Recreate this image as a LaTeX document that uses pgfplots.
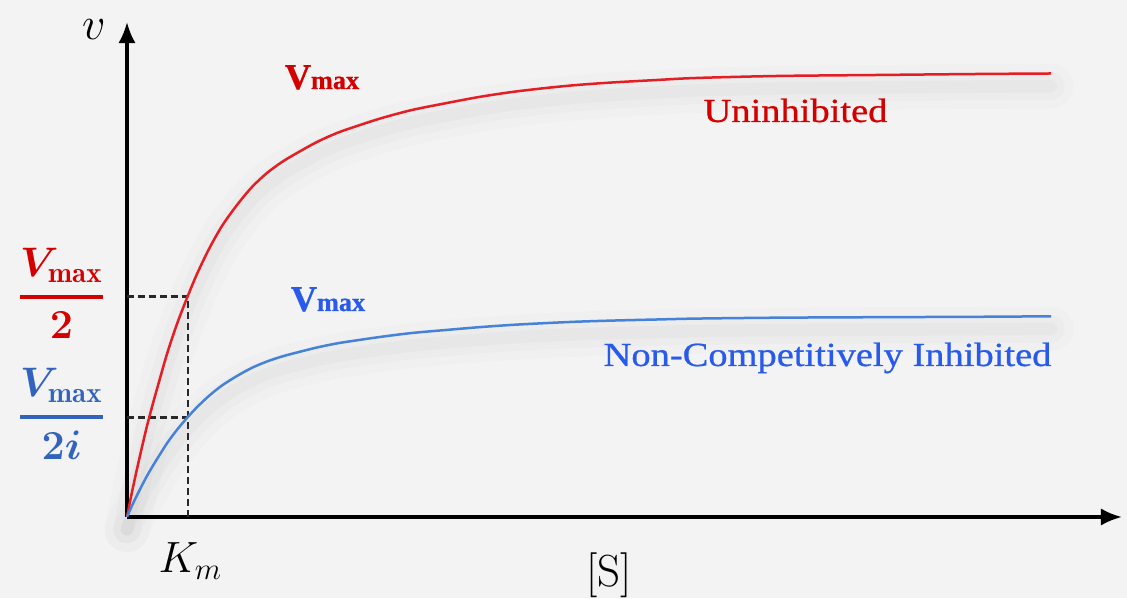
\RequirePackage{fix-cm}
\documentclass[border=0pt]{standalone}
\usepackage{amsmath}
\usepackage{graphicx}
\usepackage{fontspec}
\usepackage{pgfplots}
\pgfplotsset{compat=1.18}
\usepackage{pgfplotstable}
\usetikzlibrary{arrows.meta,backgrounds}
\newfontfamily\tnr[FakeBold=0.7]{Liberation Serif}

\definecolor{bgcol}{RGB}{243,243,243}
\definecolor{curvered}{RGB}{228,30,36}
\definecolor{curveblue}{RGB}{70,130,215}
\definecolor{txtred}{RGB}{212,0,0}
\definecolor{txtblue}{RGB}{40,90,235}
\definecolor{fracblue}{RGB}{50,100,190}
\definecolor{dashgray}{RGB}{40,40,40}

% [S] offset from origin vs. rate, both read off in picture pixels
\pgfplotstableread{
s v
0 0
5 25
10 48
15 70
20 91
25 110
30 128
40 163
50 193
60 219
70 243
82 268
95 291
110 312
125 330
140 344
155 355
170 364
190 375
210 384
230 391
255 399
285 407
320 414
352 420
385 425
419 429
450 432
485 434.5
530 437
569 439
650 441
750 442
850 443
924 443.5
}\uninhibited

\pgfplotstableread{
s v
0 0
5 11.3
10 21.7
15 31.6
20 41.1
25 49.7
30 57.9
40 73.7
50 87.2
60 99.0
70 109.8
82 121.1
95 131.5
110 141.0
125 149.2
140 155.5
155 160.5
170 164.5
190 169.5
210 173.6
230 176.7
255 180.3
285 184.0
320 187.1
352 189.8
385 192.1
419 193.9
450 195.3
485 196.4
530 197.5
569 198.4
650 199.3
750 199.8
850 200.2
924 200.7
}\noncomp

\newcommand{\vmaxlbl}{{\tnr\bfseries\fontsize{14.5}{16}\selectfont V\fontsize{10.5}{12}\selectfont max}}
\newcommand{\halffrac}[1]{\ensuremath{\displaystyle\genfrac{}{}{1.5pt}{}{V_{\max}}{#1}}}
\pgfplotsset{shadow/.style={black, opacity=#1, line cap=round, line join=round, smooth, yshift=-5pt}}

\begin{document}
\begin{tikzpicture}
\begin{axis}[
    x=0.4pt, y=0.4pt,
    at={(0,0)}, anchor=origin,
    xmin=0, xmax=995, ymin=0, ymax=495,
    enlargelimits=false,
    axis lines=left,
    axis line style={line width=1.4pt, -{Latex[length=8.5pt,width=7pt]}},
    xtick=\empty, ytick=\empty,
    clip=false,
]
% soft shadows under the curves
\addplot[shadow=0.012, line width=18pt] table {\uninhibited};
\addplot[shadow=0.016, line width=11pt] table {\uninhibited};
\addplot[shadow=0.02, line width=5pt] table {\uninhibited};
\addplot[shadow=0.012, line width=18pt] table {\noncomp};
\addplot[shadow=0.016, line width=11pt] table {\noncomp};
\addplot[shadow=0.02, line width=5pt] table {\noncomp};
% guide lines at Km
\addplot[dashgray, line width=1pt, dash pattern=on 2.8pt off 1.6pt] coordinates {(0,220.5) (61,220.5) (61,0)};
\addplot[dashgray, line width=1pt, dash pattern=on 2.8pt off 1.6pt] coordinates {(0,99.7) (61,99.7)};
% curves
\addplot[curvered, line width=1pt, smooth] table {\uninhibited};
\addplot[curveblue, line width=1pt, smooth] table {\noncomp};

% labels
\node[font=\fontsize{18.5}{20}\selectfont, inner sep=0pt] at (axis cs:-33,487) {$v$};
\node[font=\fontsize{17.5}{20}\selectfont, inner sep=0pt, anchor=base] at (axis cs:63.5,-56) {$K_m$};
\node[font=\fontsize{18}{20}\selectfont, inner sep=0pt, anchor=base] at (axis cs:482,-70) {[S]};
\node[font=\fontsize{16.5}{20}\selectfont\mathversion{bold}, inner sep=0pt, anchor=base, text=txtred] at (axis cs:-65.5,210) {\halffrac{2}};
\node[font=\fontsize{16.5}{20}\selectfont\mathversion{bold}, inner sep=0pt, anchor=base, text=fracblue] at (axis cs:-65.5,89.4) {\halffrac{2i}};

\node[inner sep=0pt, anchor=base, text=txtred] at (axis cs:195,428) {\vmaxlbl};
\node[inner sep=0pt, anchor=base, text=txtred] at (axis cs:668.5,395) {\tnr\fontsize{13.5}{16}\selectfont\scalebox{1.14}[1]{Uninhibited}};
\node[inner sep=0pt, anchor=base, text=txtblue] at (axis cs:201,206) {\vmaxlbl};
\node[inner sep=0pt, anchor=base, text=txtblue] at (axis cs:700.5,151) {\tnr\fontsize{13.5}{16}\selectfont\scalebox{1.14}[1]{Non-Competitively Inhibited}};

\coordinate (bl) at (axis cs:-127,-81);
\coordinate (tr) at (axis cs:1000,517);
\end{axis}
\begin{scope}[on background layer]
\fill[bgcol] (bl) rectangle (tr);
\end{scope}
\end{tikzpicture}
\end{document}
